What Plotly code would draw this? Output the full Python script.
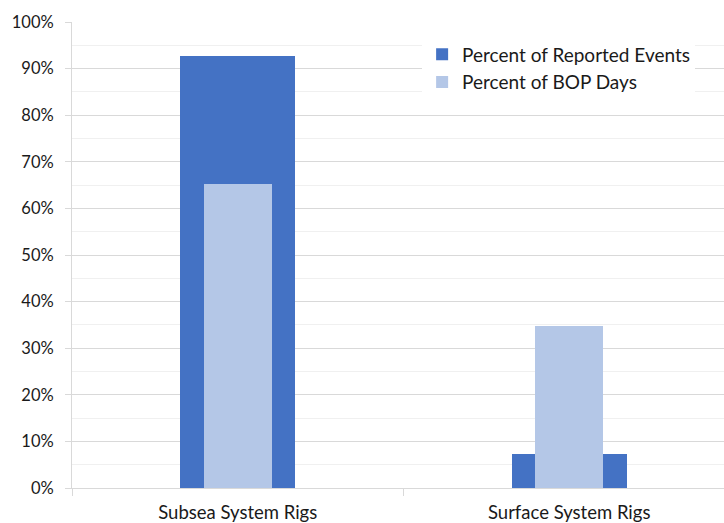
import plotly.graph_objects as go

categories = ["Subsea System Rigs", "Surface System Rigs"]
reported_events = [92.6, 7.4]
bop_days = [65.2, 34.8]
y_ticks = [0, 10, 20, 30, 40, 50, 60, 70, 80, 90, 100]
y_tick_labels = [f"{v}%" for v in y_ticks]

FONT = "Lato, 'Open Sans', sans-serif"
TEXT = "#1a1a1a"

fig = go.Figure()
fig.add_trace(go.Bar(
    x=categories, y=reported_events, name="Percent of Reported Events",
    marker=dict(color="#4472C4", line=dict(width=0)), width=0.347,
))
fig.add_trace(go.Bar(
    x=categories, y=bop_days, name="Percent of BOP Days",
    marker=dict(color="#B4C7E7", line=dict(width=0)), width=0.205,
))

fig.update_layout(
    width=724, height=523,
    margin=dict(l=72, r=0, t=22, b=35),
    barmode="overlay",
    plot_bgcolor="white", paper_bgcolor="white",
    font=dict(family=FONT, size=17, color=TEXT),
    showlegend=True,
    legend=dict(
        x=0.537, y=0.971, xanchor="left", yanchor="top",
        bgcolor="white", font=dict(family=FONT, size=19, color=TEXT),
        itemwidth=30, tracegroupgap=0, traceorder="normal",
    ),
    xaxis=dict(
        type="category", range=[-0.5, 1.467],
        tickson="boundaries", ticks="outside", ticklen=7, tickcolor="#d9d9d9",
        showline=True, linecolor="#d9d9d9", linewidth=1,
        showgrid=False, tickfont=dict(family=FONT, size=18.5, color=TEXT),
        ticklabelstandoff=8,
    ),
    yaxis=dict(
        range=[0, 100], tickvals=y_ticks, ticktext=y_tick_labels,
        ticks="outside", ticklen=6, tickcolor="#d9d9d9",
        showline=True, linecolor="#d9d9d9", linewidth=1,
        showgrid=True, gridcolor="#d9d9d9", gridwidth=1,
        zeroline=False, tickfont=dict(family=FONT, size=16.5, color=TEXT),
        ticklabelstandoff=8,
        minor=dict(dtick=5, showgrid=True, gridcolor="#f0f0f0", ticks=""),
    ),
    bargap=0,
)

fig.write_html("out.html")
